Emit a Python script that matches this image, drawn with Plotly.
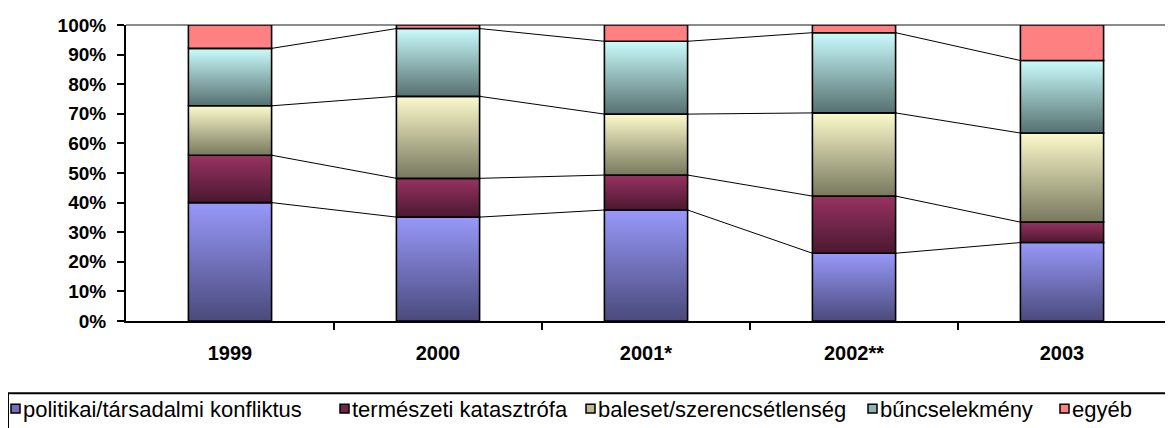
import plotly.graph_objects as go

# adatok (szazalek)
years = ['1999', '2000', '2001*', '2002**', '2003']
politikai = [40.0, 35.1, 37.5, 22.9, 26.5]
termeszeti = [16.0, 13.1, 11.8, 19.3, 6.9]
baleset = [16.7, 27.7, 20.6, 28.1, 30.1]
buncselekmeny = [19.4, 22.9, 24.6, 27.1, 24.5]
egyeb = [7.9, 1.2, 5.5, 2.6, 12.0]

series_names = ['politikai/társadalmi konfliktus', 'természeti katasztrófa',
                'baleset/szerencsétlenség', 'bűncselekmény', 'egyéb']
series_values = [politikai, termeszeti, baleset, buncselekmeny, egyeb]

# gradient: (bottom, top) colours per series
grad = [('#4a4a7c', '#9898fa'),
        ('#4a1830', '#983262'),
        ('#78785e', '#fcfacb'),
        ('#567070', '#cafcfc'),
        ('#ff8080', '#ff8080')]
legend_col = ['#7070bc', '#702448', '#bab994', '#90b4b4', '#ff8080']

# the page body has an 8px margin, so the figure is a bit smaller than the window
OFF = 8
W, H = 1165, 420
ML, MR, MT, MB = 118, 7, 14, 107
PW, PH = W - ML - MR, H - MT - MB
FONT = 'Liberation Sans, Arial, sans-serif'
bar_w = 0.4


def px_x(p):
    # window pixel -> paper
    return (p - OFF - ML) / PW


def px_y(p):
    return (H - MB - (p - OFF)) / PH


fig = go.Figure()

n = len(years)
totals = [sum(s[i] for s in series_values) for i in range(n)]
cum = [0.0] * n
tops = []
for k, (name, vals) in enumerate(zip(series_names, series_values)):
    top_k = []
    for i in range(n):
        base = cum[i]
        top = base + vals[i] / totals[i] * 100
        top_k.append(top)
        x0, x1 = i - bar_w / 2, i + bar_w / 2
        fig.add_trace(go.Scatter(
            x=[x0, x1, x1, x0, x0], y=[base, base, top, top, base],
            mode='lines', fill='toself',
            fillcolor=grad[k][1],
            fillgradient=dict(type='vertical',
                              colorscale=[[0, grad[k][0]], [1, grad[k][1]]]),
            line=dict(color='black', width=1.6),
            name=name, showlegend=False,
            hoverinfo='text', text=f'{name}: {vals[i]:.1f}%',
        ))
        cum[i] = top
    tops.append(top_k)

# series lines between the bars
for k in range(len(series_values) - 1):
    xs, ys = [], []
    for i in range(n - 1):
        xs += [i + bar_w / 2, i + 1 - bar_w / 2, None]
        ys += [tops[k][i], tops[k][i + 1], None]
    fig.add_trace(go.Scatter(x=xs, y=ys, mode='lines',
                             line=dict(color='black', width=1),
                             showlegend=False, hoverinfo='skip'))

shapes = [
    # gray plot-area border top / right
    dict(type='line', xref='paper', yref='paper', x0=0, x1=1, y0=1, y1=1,
         line=dict(color='#8c8c8c', width=2), layer='below'),
    dict(type='line', xref='paper', yref='paper', x0=1, x1=1, y0=0, y1=1,
         line=dict(color='#8c8c8c', width=2), layer='below'),
    # legend box
    dict(type='rect', xref='paper', yref='paper',
         x0=px_x(8), x1=px_x(1200), y0=px_y(394), y1=px_y(450),
         line=dict(color='black', width=2)),
]
annotations = []
leg_sq_x = [11, 340, 586, 868, 1060]
for k, name in enumerate(series_names):
    sx = leg_sq_x[k]
    shapes.append(dict(type='rect', xref='paper', yref='paper',
                       x0=px_x(sx), x1=px_x(sx + 9), y0=px_y(405), y1=px_y(414),
                       fillcolor=legend_col[k], line=dict(color='black', width=1.5)))
    annotations.append(dict(xref='paper', yref='paper', x=px_x(sx + 10), y=px_y(410),
                            text=name, showarrow=False, xanchor='left', yanchor='middle',
                            font=dict(family=FONT, size=22, color='black')))

fig.update_layout(
    width=W, height=H,
    margin=dict(l=ML, r=MR, t=MT, b=MB),
    paper_bgcolor='white', plot_bgcolor='white',
    showlegend=False,
    shapes=shapes, annotations=annotations,
    font=dict(family=FONT, color='black'),
    xaxis=dict(range=[-0.5, n - 0.5], tickvals=list(range(n)), ticktext=years,
               ticks='', showgrid=False, zeroline=False,
               showline=True, linecolor='black', linewidth=2,
               ticklabelstandoff=13,
               tickfont=dict(family=FONT, size=20, weight='bold'),
               minor=dict(tickmode='array', tickvals=[i + 0.5 for i in range(n)],
                          ticks='outside', ticklen=7, tickwidth=2, tickcolor='black'),
               fixedrange=True),
    yaxis=dict(range=[0, 100], dtick=10, ticksuffix='%',
               ticks='outside', ticklen=7, tickwidth=2, tickcolor='black',
               showgrid=False, zeroline=False,
               showline=True, linecolor='black', linewidth=2,
               ticklabelstandoff=7,
               tickfont=dict(family=FONT, size=19, weight='bold'),
               fixedrange=True),
)

fig.write_html('out.html')
